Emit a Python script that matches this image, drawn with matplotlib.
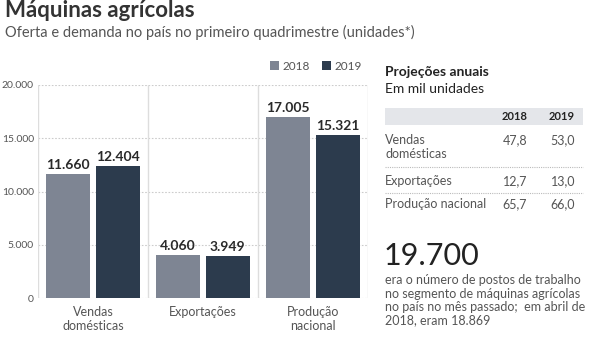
import matplotlib
matplotlib.use("Agg")
import matplotlib.pyplot as plt
import numpy as np

# dados
categorias = ["Vendas\ndomésticas", "Exportações", "Produção\nnacional"]
anos = ["2018", "2019"]
valores_2018 = [11660, 4060, 17005]
valores_2019 = [12404, 3949, 15321]
yticks = [0, 5000, 10000, 15000, 20000]

proj_linhas = ["Vendas\ndomésticas", "Exportações", "Produção nacional"]
proj_2018 = ["47,8", "12,7", "65,7"]
proj_2019 = ["53,0", "13,0", "66,0"]

destaque = "19.700"
destaque_txt = ["era o número de postos de trabalho", "no segmento de máquinas agrícolas",
                "no país no mês passado;  em abril de", "2018, eram 18.869"]

plt.rcParams["font.family"] = ["Lato", "DejaVu Sans"]

cor18 = "#7e8593"
cor19 = "#2c3b4d"
txt = "#222222"
cinza = "#555555"

def fmt(v):
    return f"{v:,}".replace(",", ".")

fig = plt.figure(figsize=(5.98, 3.5), dpi=100)
W, H = 598, 350
ax = fig.add_axes([38 / W, 1 - 298 / H, 330 / W, 213 / H])

x = np.arange(len(categorias))
w = 0.4
off = 0.225
b1 = ax.bar(x - off, valores_2018, w, color=cor18, label=anos[0], zorder=3)
b2 = ax.bar(x + off, valores_2019, w, color=cor19, label=anos[1], zorder=3)

for bars, vals in ((b1, valores_2018), (b2, valores_2019)):
    for b, v in zip(bars, vals):
        ax.text(b.get_x() + b.get_width() / 2, v + 250, fmt(v), ha="center", va="bottom",
                fontsize=10, fontweight="bold", color="#2a2a2a")

ax.set_xlim(-0.5, 2.5)
ax.set_ylim(0, 20000)
ax.set_yticks(yticks)
ax.set_yticklabels([fmt(t) for t in yticks], fontsize=7.5, color=cinza)
ax.tick_params(axis="y", length=0, pad=3)
ax.set_xticks(x)
ax.set_xticklabels(categorias, fontsize=9, color=cinza, linespacing=1.2)
ax.tick_params(axis="x", length=0, pad=6)
for t in yticks:
    ax.axhline(t, color="#cccccc", lw=0.8, ls=(0, (1.5, 1.5)), zorder=1)
for xv in (-0.5, 0.5, 1.5, 2.5):
    ax.axvline(xv, color="#dddddd", lw=1, zorder=1)
for s in ax.spines.values():
    s.set_visible(False)

ax.legend(loc="lower right", bbox_to_anchor=(0.995, 1.04), ncol=2, frameon=False, fontsize=8.5,
          handlelength=0.75, handleheight=0.75, handletextpad=0.3, columnspacing=1.0,
          borderaxespad=0, labelcolor=cinza)

# titulo
fig.text(5 / W, 1 - 17 / H, "Máquinas agrícolas", fontsize=16, fontweight="bold", color="#333333", va="baseline")
fig.text(5 / W, 1 - 37 / H, "Oferta e demanda no país no primeiro quadrimestre (unidades*)",
         fontsize=10.5, color=cinza, va="baseline")

# tabela projeções
X0, X1 = 385 / W, 583 / W
fig.text(X0, 1 - 76 / H, "Projeções anuais", fontsize=10, fontweight="bold", color=txt, va="baseline")
fig.text(X0, 1 - 93 / H, "Em mil unidades", fontsize=10, color=txt, va="baseline")
fig.patches.append(plt.Rectangle((X0, 1 - 125 / H), X1 - X0, 17 / H, transform=fig.transFigure,
                                 facecolor="#e4e6ea", edgecolor="none"))
c18, c19 = 527 / W, 575 / W
fig.text(c18, 1 - 120 / H, anos[0], fontsize=8, fontweight="bold", color=txt, ha="right", va="baseline")
fig.text(c19, 1 - 120 / H, anos[1], fontsize=8, fontweight="bold", color=txt, ha="right", va="baseline")

ys = [144, 185, 208]
for nome, a, b, yy in zip(proj_linhas, proj_2018, proj_2019, ys):
    for i, parte in enumerate(nome.split("\n")):
        fig.text(X0, 1 - (yy + 14 * i) / H, parte, fontsize=9, color=cinza, va="baseline")
    fig.text(c18, 1 - yy / H, a, fontsize=9, color=cinza, ha="right", va="baseline")
    fig.text(c19, 1 - yy / H, b, fontsize=9, color=cinza, ha="right", va="baseline")
for yy in (167, 193):
    fig.add_artist(plt.Line2D([X0, X1], [1 - yy / H] * 2, transform=fig.transFigure,
                              color="#bbbbbb", lw=0.8, ls=(0, (1, 1))))

fig.text(X0 - 1 / W, 1 - 265 / H, destaque, fontsize=22, color="#222222", va="baseline")
for i, linha in enumerate(destaque_txt):
    fig.text(X0, 1 - (284 + 13.5 * i) / H, linha, fontsize=9, color=cinza, va="baseline")

fig.savefig("out.png", dpi=100)
